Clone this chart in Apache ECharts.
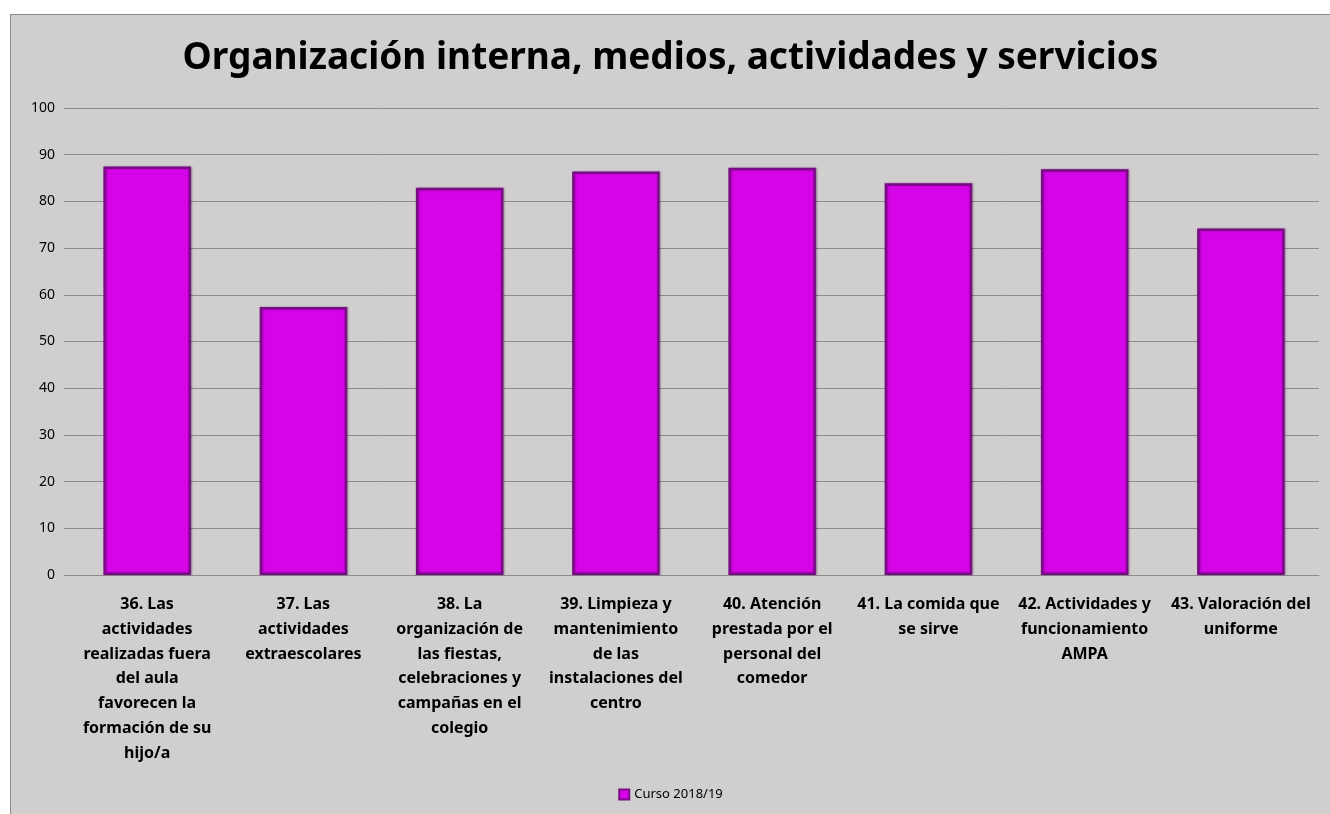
<!DOCTYPE html>
<html>
<head>
<meta charset="utf-8">
<title>Organización interna, medios, actividades y servicios</title>
<script src="https://cdn.jsdelivr.net/npm/echarts@6/dist/echarts.min.js"></script>
<style>
  html, body { margin: 0; padding: 0; background: #ffffff; }
  #chart {
    position: absolute;
    left: 10px;
    top: 14px;
    width: 1319px;
    height: 799px;
    background: #d0cece;
    border: 1px solid #8c8c8c;
  }
</style>
</head>
<body>
<div id="chart"></div>
<script>
// categorías (saltos de línea como en el original)
var categories = [
  "36. Las\nactividades\nrealizadas fuera\ndel aula\nfavorecen la\nformación de su\nhijo/a",
  "37. Las\nactividades\nextraescolares",
  "38. La\norganización de\nlas fiestas,\ncelebraciones y\ncampañas en el\ncolegio",
  "39. Limpieza y\nmantenimiento\nde las\ninstalaciones del\ncentro",
  "40. Atención\nprestada por el\npersonal del\ncomedor",
  "41. La comida que\nse sirve",
  "42. Actividades y\nfuncionamiento\nAMPA",
  "43. Valoración del\nuniforme"
];
var curso201819 = [87.5, 57.4, 82.9, 86.4, 87.2, 83.9, 86.9, 74.2];
var seriesName = "Curso 2018/19";

var chart = echarts.init(document.getElementById("chart"));
var option = {
  backgroundColor: "#d0cece",
  animation: false,
  title: {
    text: "Organización interna, medios, actividades y servicios",
    left: "center",
    top: 20,
    textStyle: {
      fontFamily: "Noto Sans",
      fontWeight: "bold",
      fontSize: 37,
      color: "#000"
    }
  },
  legend: {
    bottom: 8,
    left: "center",
    icon: "rect",
    itemWidth: 10,
    itemHeight: 10,
    itemGap: 4,
    data: [seriesName],
    textStyle: { fontFamily: "Noto Sans", fontSize: 13, color: "#000" }
  },
  grid: {
    left: 58,
    right: 11,
    top: 93,
    bottom: 239
  },
  xAxis: {
    type: "category",
    data: categories,
    axisTick: { show: false },
    axisLine: { lineStyle: { color: "#8c8c8c", width: 1 } },
    axisLabel: {
      interval: 0,
      margin: 17,
      fontFamily: "Noto Sans",
      fontWeight: "bold",
      fontSize: 16,
      lineHeight: 24.8,
      color: "#000",
      align: "center"
    }
  },
  yAxis: {
    type: "value",
    min: 0,
    max: 100,
    interval: 10,
    axisLine: { show: false },
    axisTick: { show: true, length: 5, lineStyle: { color: "#8c8c8c" } },
    splitLine: { lineStyle: { color: "#8c8c8c", width: 1 } },
    axisLabel: {
      margin: 14,
      fontFamily: "Noto Sans",
      fontSize: 14,
      color: "#000"
    }
  },
  series: [
    {
      name: seriesName,
      type: "bar",
      data: curso201819,
      barWidth: "56%",
      itemStyle: {
        color: "#d605e8",
        borderColor: "#7a0b86",
        borderWidth: 2.5,
        shadowColor: "rgba(60,0,70,0.35)",
        shadowBlur: 2,
        shadowOffsetX: 1,
        shadowOffsetY: 0
      }
    }
  ]
};
chart.setOption(option);
</script>
</body>
</html>
